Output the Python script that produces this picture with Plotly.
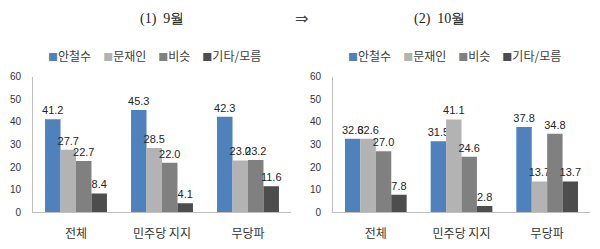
import plotly.graph_objects as go

categories = ["전체", "민주당 지지", "무당파"]
series_names = ["안철수", "문재인", "비슷", "기타/모름"]
series_colors = ["#4F81BD", "#B3B3B3", "#808080", "#4D4D4D"]

sep_ahn = [41.2, 45.3, 42.3]
sep_moon = [27.7, 28.5, 23.0]
sep_similar = [22.7, 22.0, 23.2]
sep_other = [8.4, 4.1, 11.6]

oct_ahn = [32.6, 31.5, 37.8]
oct_moon = [32.6, 41.1, 13.7]
oct_similar = [27.0, 24.6, 34.8]
oct_other = [7.8, 2.8, 13.7]

y_ticks = [0, 10, 20, 30, 40, 50, 60]

panel_titles = ["(1)  9월", "(2)  10월"]

fig = go.Figure()

panels = [
    ("x", "y", [sep_ahn, sep_moon, sep_similar, sep_other]),
    ("x2", "y2", [oct_ahn, oct_moon, oct_similar, oct_other]),
]
for xa, ya, series in panels:
    for name, color, vals in zip(series_names, series_colors, series):
        fig.add_trace(go.Bar(
            x=categories, y=vals, name=name, xaxis=xa, yaxis=ya,
            marker=dict(color=color, line=dict(width=0)),
            text=[f"{v:.1f}" for v in vals], textposition="outside",
            textfont=dict(family="Liberation Sans, Arial", size=11, color="#262626"),
            constraintext="none", cliponaxis=False, showlegend=False,
        ))

ydom = [(249 - 217) / 249, (249 - 75) / 249]
axis_x = dict(showline=True, linecolor="#BFBFBF", linewidth=1, showgrid=False,
              ticks="", ticklabelstandoff=10,
              tickfont=dict(family="Noto Sans CJK KR", size=12, color="#333333"))
axis_y = dict(range=[0, 60], tickvals=y_ticks, showline=True, linecolor="#BFBFBF",
              linewidth=1, showgrid=False, zeroline=False, ticks="",
              ticklabelstandoff=9,
              tickfont=dict(family="Liberation Sans, Arial", size=10, color="#333333"))

fig.update_layout(
    width=600, height=249,
    margin=dict(l=0, r=0, t=0, b=0),
    paper_bgcolor="white", plot_bgcolor="white",
    barmode="group", bargap=0.28, bargroupgap=0,
    xaxis=dict(domain=[33 / 600, 291 / 600], anchor="y", **axis_x),
    yaxis=dict(domain=ydom, anchor="x", **axis_y),
    xaxis2=dict(domain=[333 / 600, 590 / 600], anchor="y2", **axis_x),
    yaxis2=dict(domain=ydom, anchor="x2", **axis_y),
)

def legend_text():
    parts = []
    for name, color in zip(series_names, series_colors):
        parts.append(f"<span style='color:{color};font-size:10px'>■</span>{name}")
    return "\u2003".join(parts)

def ann(text, x, y, font):
    return dict(text=text, x=x / 600, y=1 - y / 249, xref="paper", yref="paper",
                xanchor="center", yanchor="middle", showarrow=False, font=font)

title_font = dict(family="Liberation Serif, Times New Roman", size=14, color="#222222")
legend_font = dict(family="Noto Sans CJK KR", size=12, color="#404040")

annotations = [
    ann(panel_titles[0], 162, 15, title_font),
    ann(panel_titles[1], 440, 15, title_font),
    ann("⇒", 301, 14, dict(family="DejaVu Sans", size=16, color="#444444")),
    ann(legend_text(), 154, 53, legend_font),
    ann(legend_text(), 454, 53, legend_font),
]
fig.update_layout(annotations=annotations)

fig.write_html("out.html")
